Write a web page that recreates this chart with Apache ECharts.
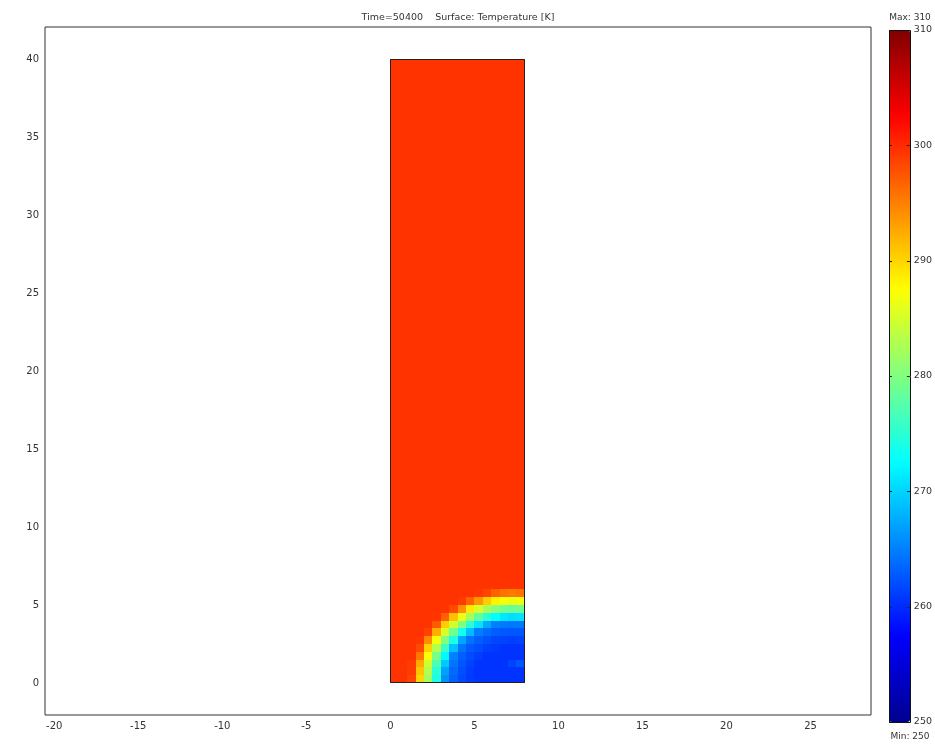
<!DOCTYPE html>
<html>
<head>
<meta charset="utf-8">
<script src="https://cdn.jsdelivr.net/npm/echarts@6/dist/echarts.min.js"></script>
<style>
  html, body { margin: 0; padding: 0; background: #fff; }
  #chart { width: 935px; height: 747px; }
</style>
</head>
<body>
<div id="chart"></div>
<script>
// 图标题与色标
const titleText = 'Time=50400    Surface: Temperature [K]'
const colorMin = 250
const colorMax = 310
const colorTicks = [250, 260, 270, 280, 290, 300, 310]

// 坐标轴刻度
const xRange = [-20.55, 28.6]
const yRange = [-2.05, 42.05]
const xTickLabels = [-20, -15, -10, -5, 0, 5, 10, 15, 20, 25]
const yTickLabels = [0, 5, 10, 15, 20, 25, 30, 35, 40]

// 计算域 (矩形 0..8 x 0..40)
const domainX = [0, 8]
const domainY = [0, 40]

// 底部网格单元边界
const xEdges = [0, 0.5, 1, 1.5, 2, 2.5, 3, 3.5, 4, 4.5, 5, 5.5, 6, 6.5, 7, 7.5, 8]
const yEdges = [0, 0.5, 1, 1.5, 2, 2.5, 3, 3.5, 4, 4.5, 5, 5.5, 6]

// 各单元温度 [K]，自下而上
const tempRows = [
  [299.5, 299.5, 298.5, 290, 282, 274, 266, 263.2, 261.8, 260.9, 260.5, 260.5, 260.5, 260.5, 260.5, 260.5],
  [299.5, 299.5, 299, 291, 283, 275, 267, 263.7, 262.1, 261, 260.5, 260.5, 260.5, 260.5, 260.5, 260.5],
  [299.5, 299.5, 299, 292.5, 284.7, 277, 269.3, 264.3, 262.5, 261.4, 260.5, 260.5, 260.5, 260.5, 261.5, 262.5],
  [299.5, 299.5, 299.5, 295.5, 287, 279.5, 272.2, 265.1, 263.1, 262, 261.1, 260.5, 260.5, 260.5, 260.5, 260.5],
  [299.5, 299.5, 299.5, 298.2, 290.3, 283, 275.9, 268.8, 264.4, 262.8, 262, 261.2, 260.9, 260.5, 260.5, 260.5],
  [299.5, 299.5, 299.5, 299.3, 294.4, 286.9, 280.2, 274.1, 267.2, 264.3, 263, 262.3, 261.6, 261.4, 261.2, 261.4],
  [299.5, 299.5, 299.5, 299.5, 298.7, 292.3, 285.2, 279.1, 273.6, 268.5, 264.9, 263.8, 263, 262.7, 262.6, 262.6],
  [299.5, 299.5, 299.5, 299.5, 299.5, 297.3, 290.4, 284.8, 279.9, 274.9, 270.9, 267.4, 265, 264.6, 264.5, 264.6],
  [299.5, 299.5, 299.5, 299.5, 299.5, 299.4, 296.9, 291.2, 286.3, 282, 278.1, 274.9, 272.5, 271.1, 270.6, 270.9],
  [299.5, 299.5, 299.5, 299.5, 299.5, 299.5, 299.5, 298.2, 294, 288.8, 285.3, 282.4, 280.4, 279.1, 278.6, 278.9],
  [299.5, 299.5, 299.5, 299.5, 299.5, 299.5, 299.5, 299.5, 299.1, 296.9, 293.7, 290.5, 288.2, 287, 286.4, 286.9],
  [299.5, 299.5, 299.5, 299.5, 299.5, 299.5, 299.5, 299.5, 299.5, 299.5, 299.2, 298.5, 296.9, 295.8, 295.3, 295.7]
]
// 上部区域 (y 6..40) 温度
const upperTemp = 299.5

const jet = ['#00008f', '#0000ff', '#0080ff', '#00ffff', '#80ff80', '#ffff00', '#ff8000', '#ff0000', '#800000']

const cells = []
tempRows.forEach((row, i) => {
  row.forEach((t, j) => {
    cells.push([xEdges[j], yEdges[i], xEdges[j + 1], yEdges[i + 1], t])
  })
})
cells.push([domainX[0], yEdges[yEdges.length - 1], domainX[1], domainY[1], upperTemp])

const labelFont = { color: '#333', fontSize: 10, fontFamily: 'DejaVu Sans' }

const chart = echarts.init(document.getElementById('chart'))
chart.setOption({
  animation: false,
  backgroundColor: '#fff',
  graphic: [
    { type: 'text', x: 458, y: 18, style: { text: titleText, align: 'center', verticalAlign: 'middle', fill: '#333', font: '9.5px "DejaVu Sans"' } },
    { type: 'text', x: 910, y: 18, style: { text: 'Max: ' + colorMax, align: 'center', verticalAlign: 'middle', fill: '#333', font: '9px "DejaVu Sans"' } },
    { type: 'text', x: 910, y: 737, style: { text: 'Min: ' + colorMin, align: 'center', verticalAlign: 'middle', fill: '#333', font: '9px "DejaVu Sans"' } },
    { type: 'rect', z: 100, shape: { x: 889.5, y: 30.5, width: 21, height: 692 }, style: { fill: 'none', stroke: '#111', lineWidth: 1 } }
  ],
  grid: [
    { left: 45, top: 27, width: 826, height: 688, show: true, borderColor: '#333', borderWidth: 1 },
    { left: 889, top: 30, width: 21, height: 692, show: false }
  ],
  xAxis: [
    {
      type: 'value', min: xRange[0], max: xRange[1],
      axisLine: { show: false }, axisTick: { show: false }, splitLine: { show: false },
      axisLabel: { ...labelFont, margin: 6, customValues: xTickLabels }
    },
    { type: 'value', gridIndex: 1, show: false, min: 0, max: 1 }
  ],
  yAxis: [
    {
      type: 'value', min: yRange[0], max: yRange[1],
      axisLine: { show: false }, axisTick: { show: false }, splitLine: { show: false },
      axisLabel: { ...labelFont, margin: 6, customValues: yTickLabels }
    },
    {
      type: 'value', gridIndex: 1, position: 'right', min: colorMin, max: colorMax, interval: 10,
      axisLine: { show: false }, splitLine: { show: false }, axisTick: { show: false },
      axisLabel: { ...labelFont, fontSize: 9.5, margin: 4, customValues: colorTicks }
    }
  ],
  visualMap: {
    type: 'continuous',
    min: colorMin, max: colorMax,
    dimension: 4, seriesIndex: 0,
    calculable: false, hoverLink: false,
    left: 889, top: 30, padding: 0,
    itemWidth: 21, itemHeight: 692,
    text: null, showLabel: false,
    inRange: { color: jet }
  },
  series: [
    {
      type: 'custom',
      xAxisIndex: 0, yAxisIndex: 0,
      data: cells,
      encode: { x: [0, 2], y: [1, 3] },
      renderItem: (params, api) => {
        const p0 = api.coord([api.value(0), api.value(1)])
        const p1 = api.coord([api.value(2), api.value(3)])
        const x0 = Math.round(p0[0]), x1 = Math.round(p1[0])
        const y0 = Math.round(p1[1]), y1 = Math.round(p0[1])
        return {
          type: 'rect',
          shape: { x: x0, y: y0, width: x1 - x0, height: y1 - y0 },
          style: { fill: api.visual('color') }
        }
      }
    },
    {
      type: 'custom',
      xAxisIndex: 0, yAxisIndex: 0,
      data: [[domainX[0], domainY[0], domainX[1], domainY[1]]],
      z: 5,
      renderItem: (params, api) => {
        const p0 = api.coord([api.value(0), api.value(1)])
        const p1 = api.coord([api.value(2), api.value(3)])
        const x0 = Math.round(p0[0]) + 0.5, x1 = Math.round(p1[0]) - 0.5
        const y0 = Math.round(p1[1]) + 0.5, y1 = Math.round(p0[1]) - 0.5
        return {
          type: 'rect',
          shape: { x: x0, y: y0, width: x1 - x0, height: y1 - y0 },
          style: { fill: 'none', stroke: '#222', lineWidth: 1 }
        }
      }
    },
    {
      // 色标内侧刻度
      type: 'custom',
      xAxisIndex: 1, yAxisIndex: 1,
      z: 20,
      data: colorTicks.map(v => [v]),
      encode: { y: 0 },
      renderItem: (params, api) => {
        const pl = api.coord([0, api.value(0)])
        const pr = api.coord([1, api.value(0)])
        const y = Math.round(pl[1]) + 0.5
        return {
          type: 'group',
          children: [
            { type: 'line', shape: { x1: pl[0], y1: y, x2: pl[0] + 3, y2: y }, style: { stroke: '#222', lineWidth: 1 } },
            { type: 'line', shape: { x1: pr[0] - 3, y1: y, x2: pr[0], y2: y }, style: { stroke: '#222', lineWidth: 1 } }
          ]
        }
      }
    }
  ]
})
</script>
</body>
</html>
